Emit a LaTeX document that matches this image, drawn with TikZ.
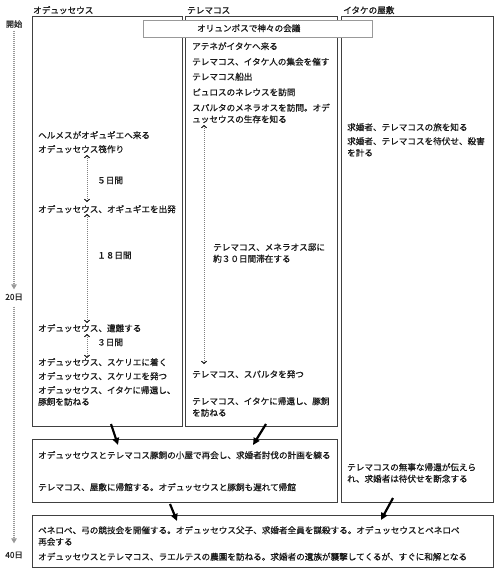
\documentclass[tikz,border=0pt]{standalone}
\usepackage{fontspec}
\newfontfamily\jp[FakeBold=0.7]{Noto Sans CJK JP}
\usetikzlibrary{arrows.meta}
\begin{document}
\begin{tikzpicture}[x=1pt,y=-1pt,
  txt/.style={font=\jp\fontsize{8.6}{11.5}\selectfont, inner sep=0pt, anchor=base west, align=left, text=black!90},
  tl/.style={font=\jp\fontsize{8.2}{10}\selectfont, inner sep=0pt, anchor=center, text=black!85},
  colbox/.style={draw=black!75, line width=0.9pt, inner sep=0pt, outer sep=0pt, anchor=north west},
  olybox/.style={draw=black!40, fill=white, line width=0.9pt, inner sep=0pt, outer sep=0pt, anchor=north west},
  bigarrow/.style={line width=2.2pt, black, -{Triangle[length=7pt,width=6.5pt]}},
  spanarrow/.style={black!50, line width=0.5pt, dash pattern=on 1pt off 1pt,
     {Straight Barb[length=2.2pt,width=5pt,line width=0.9pt,color=black]}-{Straight Barb[length=2.2pt,width=5pt,line width=0.9pt,color=black]}},
  timeline/.style={black!40, line width=1.1pt, dash pattern=on 1pt off 1pt, -{Triangle[length=5pt,width=5.5pt]}}
]
\useasboundingbox (0,0) rectangle (499,573);
\fill[white] (0,0) rectangle (499,573);

% column boxes
\node (colO) [colbox, minimum width=150pt, minimum height=410pt] at (32,16) {};
\node (colT) [colbox, minimum width=152pt, minimum height=410pt] at (185,16) {};
\node (colI) [colbox, minimum width=152pt, minimum height=486pt] at (341,16) {};
\node (mid)  [colbox, minimum width=305pt, minimum height=63pt] at (32,439) {};
\node (bot)  [colbox, minimum width=461pt, minimum height=52pt] at (32,515) {};
\node (oly)  [olybox, minimum width=229pt, minimum height=17pt] at (143,20) {};

% headers
\node (h1) [txt] at (33,13.5) {オデュッセウス};
\node (h2) [txt] at (187,13.5) {テレマコス};
\node (h3) [txt] at (343,13.5) {イタケの屋敷};
\node (olyt) [txt] at (197,31.5) {オリュンポスで神々の会議};

% Odysseus column
\node (o1) [txt] at (38,138.5) {ヘルメスがオギュギエへ来る};
\node (o2) [txt] at (38,152.5) {オデュッセウス筏作り};
\node (o3) [txt] at (38,212.5) {オデュッセウス、オギュギエを出発};
\node (o4) [txt] at (38,331.5) {オデュッセウス、遭難する};
\node (o5) [txt] at (38,365.5) {オデュッセウス、スケリエに着く};
\node (o6) [txt] at (38,379.5) {オデュッセウス、スケリエを発つ};
\node (o7) [txt] at (38,405) {オデュッセウス、イタケに帰還し、\\豚飼を訪ねる};
\node (d5) [txt] at (97,183.5) {５日間};
\node (d18) [txt] at (97,258.5) {１８日間};
\node (d3) [txt] at (97,345.5) {３日間};

% Telemachos column
\node (t1) [txt] at (192,49.5) {アテネがイタケへ来る};
\node (t2) [txt] at (192,65) {テレマコス、イタケ人の集会を催す};
\node (t3) [txt] at (192,80) {テレマコス船出};
\node (t4) [txt] at (192,95.5) {ピュロスのネレウスを訪問};
\node (t5) [txt] at (192,122.5) {スパルタのメネラオスを訪問。オデ\\ュッセウスの生存を知る};
\node (t6) [txt] at (213,262) {テレマコス、メネラオス邸に\\約３０日間滞在する};
\node (t7) [txt] at (192,377.5) {テレマコス、スパルタを発つ};
\node (t8) [txt] at (192,416) {テレマコス、イタケに帰還し、豚飼\\を訪ねる};

% Ithaca column
\node (i1) [txt] at (347,130.5) {求婚者、テレマコスの旅を知る};
\node (i2) [txt] at (347,156) {求婚者、テレマコスを待伏せ、殺害\\を計る};
\node (i3) [txt] at (347,482) {テレマコスの無事な帰還が伝えら\\れ、求婚者は待伏せを断念する};

% middle box
\node (m1) [txt] at (38,458.5) {オデュッセウスとテレマコス豚飼の小屋で再会し、求婚者討伐の計画を練る};
\node (m2) [txt] at (38,490.5) {テレマコス、屋敷に帰館する。オデュッセウスと豚飼も遅れて帰館};

% bottom box
\node (b1) [txt] at (38,545) {ペネロペ、弓の競技会を開催する。オデュッセウス父子、求婚者全員を謀殺する。オデュッセウスとペネロペ\\再会する};
\node (b2) [txt] at (38,560) {オデュッセウスとテレマコス、ラエルテスの農園を訪ねる。求婚者の遺族が襲撃してくるが、すぐに和解となる};

% time line
\node (l0) [tl] at (14,24) {開始};
\node (l20) [tl] at (14,297) {20日};
\node (l40) [tl] at (14,555) {40日};
\draw[timeline, shorten <=3pt, shorten >=4pt] (l0.south) -- (l20.north);
\draw[timeline, shorten <=6pt, shorten >=8pt] (l20.south) -- (l40.north);

% duration arrows
\coordinate (s5a) at (87,155);   \coordinate (s5b) at (87,202);
\coordinate (s18a) at (87,214);  \coordinate (s18b) at (87,323);
\coordinate (s3a) at (87,334);   \coordinate (s3b) at (87,358);
\coordinate (sTa) at (204,125);  \coordinate (sTb) at (204,364);
\draw[spanarrow] (s5a) -- (s5b);
\draw[spanarrow] (s18a) -- (s18b);
\draw[spanarrow] (s3a) -- (s3b);
\draw[spanarrow] (sTa) -- (sTb);

% flow arrows
\draw[bigarrow] ([xshift=79pt,yshift=2pt]colO.south west) -- ([xshift=86pt,yshift=-6pt]mid.north west);
\draw[bigarrow] ([xshift=81pt,yshift=2pt]colT.south west) -- ([xshift=221pt,yshift=-6pt]mid.north west);
\draw[bigarrow] ([xshift=138pt,yshift=-2pt]mid.south west) -- ([xshift=145pt,yshift=-6pt]bot.north west);
\draw[bigarrow] ([xshift=52pt,yshift=4pt]colI.south west) -- ([xshift=349pt,yshift=-5pt]bot.north west);
\end{tikzpicture}
\end{document}
